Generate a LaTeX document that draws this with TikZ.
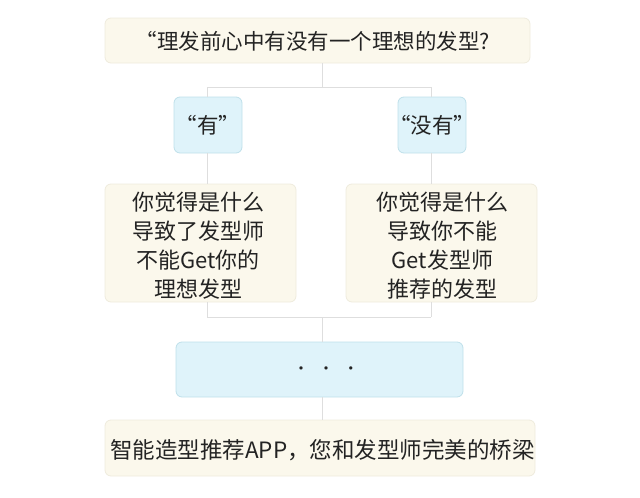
\documentclass[tikz,border=0pt]{standalone}
\usepackage{fontspec}
\setmainfont{Noto Sans CJK SC}
\definecolor{cream}{HTML}{FBF8EC}
\definecolor{creamline}{HTML}{EFEBDD}
\definecolor{bluefill}{HTML}{DFF3FA}
\definecolor{blueline}{HTML}{BFE0EA}
\definecolor{conn}{HTML}{DEDEDE}
\definecolor{txt}{HTML}{232323}
\tikzset{
  creambox/.style={draw=creamline, fill=cream, rounded corners=6pt, line width=0.8pt},
  bluebox/.style={draw=blueline, fill=bluefill, rounded corners=6pt, line width=0.8pt},
  lbl/.style={text=txt, font=\fontsize{21.5pt}{29pt}\selectfont, align=center, inner sep=0pt},
  link/.style={draw=conn, line width=1pt}
}
\begin{document}
\begin{tikzpicture}[x=1pt,y=-1pt]
\useasboundingbox (0,0) rectangle (640,498);
\coordinate (j1) at (322,87);
\coordinate (l1) at (207,87);
\coordinate (r1) at (431,87);
\coordinate (j2) at (322,317);
\coordinate (l2) at (207,317);
\coordinate (r2) at (431,317);
% boxes
\path[creambox] (105,18) rectangle (530,63);
\node[lbl] (top) at (313,41) {“理发前心中有没有一个理想的发型?};
\coordinate (topb) at (322,63);
\path[bluebox] (174,97) rectangle (242,153);
\node[lbl] (yes) at (208,125) {“有”};
\path[bluebox] (398,97) rectangle (466,153);
\node[lbl] (no) at (432,125) {“没有”};
\path[creambox] (105,184) rectangle (296,302);
\node[lbl,font=\fontsize{22pt}{29pt}\selectfont] (qa) at (198,246) {你觉得是什么\\导致了发型师\\不能Get你的\\理想发型};
\path[creambox] (346,184) rectangle (537,302);
\node[lbl,font=\fontsize{22pt}{29pt}\selectfont] (qb) at (442.5,246) {你觉得是什么\\导致你不能\\Get发型师\\推荐的发型};
\path[bluebox] (176,342) rectangle (463,397);
\node[lbl,font=\fontsize{16pt}{20pt}\selectfont] (dots) at (326,371) {·\hspace{0.55em}·\hspace{0.55em}·};
\path[creambox] (105,420) rectangle (535,476);
\node[lbl,font=\fontsize{22.5pt}{29pt}\selectfont] (app) at (322.5,450) {智能造型推荐APP，您和发型师完美的桥梁};
% connectors
\draw[link] (topb) -- (j1);
\draw[link] (l1) -- (r1);
\draw[link] (l1) -- (207,97);
\draw[link] (r1) -- (431,97);
\draw[link] (207,153) -- (207,184);
\draw[link] (431,153) -- (431,184);
\draw[link] (207,302) -- (l2);
\draw[link] (431,302) -- (r2);
\draw[link] (l2) -- (r2);
\draw[link] (j2) -- (322,342);
\draw[link] (322,397) -- (322,420);
\end{tikzpicture}
\end{document}
